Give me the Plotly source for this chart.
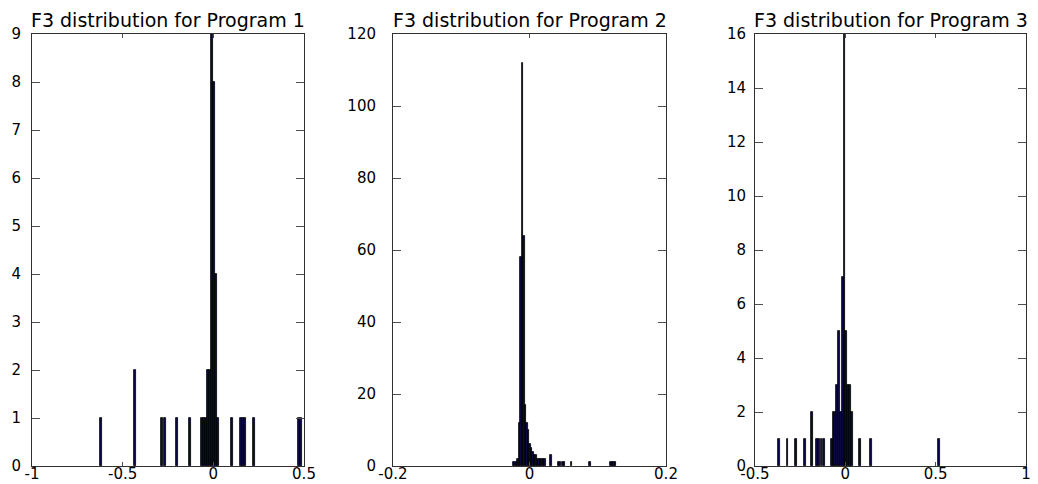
import plotly.graph_objects as go

# ---- data (bin centres and counts) ----
titles = ["F3 distribution for Program 1", "F3 distribution for Program 2", "F3 distribution for Program 3"]

p1_x = [-0.620, -0.432, -0.284, -0.268, -0.200, -0.130, -0.064, -0.053, -0.042, -0.031, -0.020,
        -0.009, 0.002, 0.013, 0.024, 0.101, 0.153, 0.164, 0.175, 0.223, 0.473, 0.484]
p1_y = [1, 2, 1, 1, 1, 1, 1, 1, 1, 2, 2, 9, 8, 4, 1, 1, 1, 1, 1, 1, 1, 1]

p2_x = [-0.0237, -0.0215, -0.0193, -0.0171, -0.0149, -0.0127, -0.0105, -0.0083, -0.0061, -0.0039,
        -0.0017, 0.0005, 0.0027, 0.0049, 0.0071, 0.0093, 0.0115, 0.0137, 0.0159, 0.0181, 0.0203,
        0.0225, 0.0313, 0.0423, 0.0445, 0.0489, 0.0511, 0.0615, 0.0885, 0.1195, 0.1217, 0.1239, 0.1261]
p2_y = [1, 1, 1, 2, 12, 58, 112, 64, 17, 12, 10, 6, 5, 4, 3, 3, 2, 2, 2, 2, 2, 2, 3, 1, 1, 1, 1,
        1, 1, 1, 1, 1, 1]

p3_x = [-0.365, -0.320, -0.272, -0.225, -0.185, -0.156, -0.144, -0.132, -0.120, -0.075, -0.065,
        -0.055, -0.045, -0.035, -0.025, -0.015, -0.005, 0.005, 0.015, 0.025, 0.035, 0.080, 0.142, 0.518]
p3_y = [1, 1, 1, 1, 2, 1, 1, 1, 1, 1, 2, 2, 3, 5, 2, 7, 16, 5, 3, 3, 2, 1, 1, 1]

bin_widths = [0.011, 0.0022, 0.010]

x_ranges = [[-1, 0.5], [-0.2, 0.2], [-0.5, 1]]
x_tickvals = [[-1, -0.5, 0, 0.5], [-0.2, 0, 0.2], [-0.5, 0, 0.5, 1]]
x_ticktext = [["-1", "-0.5", "0", "0.5"], ["-0.2", "0", "0.2"], ["-0.5", "0", "0.5", "1"]]
y_ranges = [[0, 9], [0, 120], [0, 16]]
y_tickvals = [list(range(0, 10, 1)), list(range(0, 121, 20)), list(range(0, 17, 2))]

# ---- layout geometry (page pixels; the page body adds an 8px offset) ----
PAGE_W, PAGE_H = 1038, 484
OFF = 8
W, H = PAGE_W - OFF, PAGE_H - OFF
x_domains_px = [(32, 304), (393, 666), (755, 1026)]
y_top_px, y_bot_px = 34, 466
ystandoffs = [7, 13, 5]

fig = go.Figure()
FONT = "DejaVu Sans"
data = [(p1_x, p1_y), (p2_x, p2_y), (p3_x, p3_y)]

for i, (xs, ys) in enumerate(data):
    n = "" if i == 0 else str(i + 1)
    fig.add_trace(go.Bar(
        x=xs, y=ys, width=bin_widths[i],
        marker=dict(color="#0a0a46", line=dict(color="black", width=0.8)),
        xaxis="x" + n, yaxis="y" + n, showlegend=False, hoverinfo="x+y",
    ))
    x0, x1 = x_domains_px[i][0] - OFF, x_domains_px[i][1] - OFF
    yt, yb = y_top_px - OFF, y_bot_px - OFF
    common = dict(showline=True, linecolor="#303030", linewidth=1, mirror="ticks",
                  ticks="inside", tickcolor="#505050", tickwidth=1,
                  showgrid=False, zeroline=False, automargin=False,
                  tickfont=dict(family=FONT, size=15, color="black"))
    fig.update_layout(**{
        "xaxis" + n: dict(domain=[x0 / W, x1 / W], range=x_ranges[i], anchor="y" + n,
                          tickmode="array", tickvals=x_tickvals[i], ticktext=x_ticktext[i],
                          ticklen=4, ticklabelstandoff=-6, **common),
        "yaxis" + n: dict(domain=[1 - yb / H, 1 - yt / H], range=y_ranges[i],
                          anchor="x" + n, tickmode="array", tickvals=y_tickvals[i],
                          ticklen=8, ticklabelstandoff=ystandoffs[i], **common),
    })
    fig.add_annotation(text=titles[i], xref="paper", yref="paper",
                       x=(x0 + x1) / 2 / W, y=1 - (20 - OFF) / H, xanchor="center", yanchor="middle",
                       showarrow=False, font=dict(family=FONT, size=19, color="black"))

fig.update_layout(width=W, height=H, margin=dict(l=0, r=0, t=0, b=0),
                  paper_bgcolor="white", plot_bgcolor="white", bargap=0)

fig.write_html("out.html")
